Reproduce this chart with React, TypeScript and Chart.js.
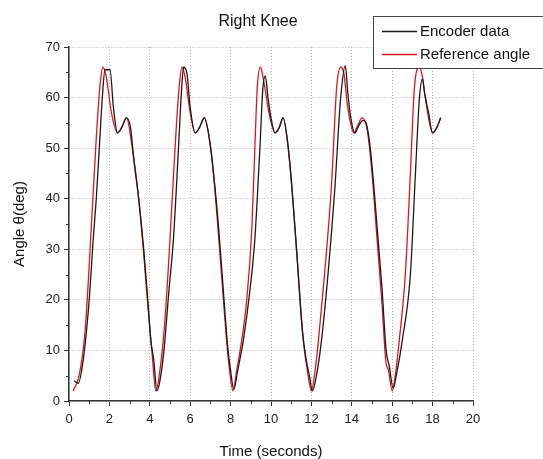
import React, { useEffect, useRef } from "react";
import { Chart, registerables } from "chart.js";

Chart.register(...registerables);

const chartTitle = "Right Knee";
const xAxisTitle = "Time (seconds)";
const yAxisTitle = "Angle \u03B8(deg)";

const encoderLabel = "Encoder data";
const referenceLabel = "Reference angle";

const encoderTime = [
  0.25, 0.45, 0.7, 1.0, 1.2, 1.35, 1.5, 1.65, 1.78, 2.03, 2.2, 2.4, 2.6, 2.85, 3.05, 3.2, 3.45, 3.7, 3.9, 4.05,
  4.2, 4.35, 4.5, 4.7, 4.95, 5.17, 5.42, 5.58, 5.67, 5.83, 6.0, 6.25, 6.45, 6.7, 6.9, 7.1, 7.35, 7.6, 7.85, 8.0,
  8.16, 8.35, 8.63, 8.96, 9.2, 9.45, 9.6, 9.72, 9.85, 10.0, 10.2, 10.4, 10.6, 10.8, 11.0, 11.3, 11.55, 11.75, 11.9,
  12.05, 12.25, 12.5, 12.82, 13.16, 13.45, 13.68, 13.8, 13.95, 14.15, 14.35, 14.55, 14.7, 14.9, 15.1, 15.3, 15.5,
  15.7, 15.85, 16.05, 16.2, 16.5, 16.9, 17.15, 17.35, 17.5, 17.6, 17.8, 18.0, 18.2, 18.4,
];
const encoderAngle = [
  4, 3.5, 8, 20, 32, 40, 50, 60, 65.5, 65.5, 58, 53, 54, 56, 54, 48, 40, 30, 20, 12,
  8, 2, 4, 10, 22, 32, 50, 62, 66, 65, 58, 53, 54, 56, 53, 47, 37, 24, 11, 6,
  2.3, 6, 12, 22, 32, 50, 62, 64.3, 60, 56, 53, 54, 56, 52, 44, 28, 14, 8, 5,
  2, 5, 12, 25, 42, 60, 66.3, 61, 56, 53, 54.5, 55.5, 55, 50.5, 42, 32, 22,
  10, 7, 2.5, 5, 12, 25, 45, 60, 63.7, 61, 57, 53, 54, 56,
];

const referenceTime = [
  0.2, 0.5, 0.8, 1.1, 1.35, 1.55, 1.68, 1.85, 2.1, 2.4, 2.6, 2.85, 3.1, 3.45, 3.7, 3.9, 4.1, 4.3, 4.5, 4.75,
  5.0, 5.25, 5.45, 5.6, 5.75, 6.0, 6.25, 6.45, 6.7, 7.05, 7.3, 7.55, 7.8, 7.95, 8.12, 8.3, 8.55, 8.8, 9.05, 9.2,
  9.32, 9.48, 9.65, 9.9, 10.2, 10.4, 10.6, 10.85, 11.1, 11.35, 11.6, 11.8, 12.0, 12.15, 12.35, 12.65, 13.0, 13.25,
  13.45, 13.6, 13.8, 14.1, 14.3, 14.5, 14.75, 15.0, 15.25, 15.5, 15.68, 15.82, 16.0, 16.15, 16.35, 16.65, 16.9,
  17.1, 17.35, 17.5, 17.6, 17.8, 18.0, 18.2, 18.4,
];
const referenceAngle = [
  2, 5, 14, 34, 52, 63, 66, 64, 57, 53, 54, 56, 51, 40, 29, 19, 10, 2, 6, 16,
  32, 50, 62, 66, 64, 57, 53, 54, 56, 49, 38, 25, 12, 6, 2, 6, 12, 20, 34, 50,
  62, 66, 63, 57, 53, 54, 56, 50, 39, 25, 12, 6, 2, 5, 12, 25, 43, 62,
  66, 65, 58, 53, 54.5, 56, 54, 45, 32, 19, 8, 6, 2, 5, 12, 25, 45,
  62, 66, 64, 61, 56, 53, 54, 56,
];

const xMin = 0;
const xMax = 20;
const xStep = 2;
const yMin = 0;
const yMax = 70;
const yStep = 10;

const FONT = "'Liberation Sans', Arial, Helvetica, sans-serif";

const decorPlugin = {
  id: "decor",
  afterDraw(chart: any) {
    const ctx = chart.ctx;
    const xs = chart.scales.x;
    const ys = chart.scales.y;
    const area = chart.chartArea;
    ctx.save();
    // minor ticks
    ctx.strokeStyle = "#333";
    ctx.lineWidth = 1;
    ctx.beginPath();
    for (let v = xMin + xStep / 2; v < xMax; v += xStep) {
      const px = Math.round(xs.getPixelForValue(v)) + 0.5;
      ctx.moveTo(px, area.bottom);
      ctx.lineTo(px, area.bottom + 3);
    }
    for (let v = yMin + yStep / 2; v < yMax; v += yStep) {
      const py = Math.round(ys.getPixelForValue(v)) + 0.5;
      ctx.moveTo(area.left, py);
      ctx.lineTo(area.left - 3, py);
    }
    ctx.stroke();

    // chart title
    ctx.fillStyle = "#111";
    ctx.font = `16px ${FONT}`;
    ctx.textAlign = "center";
    ctx.textBaseline = "middle";
    ctx.fillText(chartTitle, 258, 22);

    // legend box
    const bx = 373.5;
    const by = 16.5;
    const bw = 200;
    const bh = 52;
    ctx.fillStyle = "#fff";
    ctx.fillRect(bx, by, bw, bh);
    ctx.strokeStyle = "#444";
    ctx.lineWidth = 1;
    ctx.strokeRect(bx, by, bw, bh);
    const rows = chart.data.datasets;
    const rowY = [31.5, 54.5];
    rows.forEach((ds: any, i: number) => {
      ctx.strokeStyle = ds.borderColor;
      ctx.lineWidth = 1.3;
      ctx.beginPath();
      ctx.moveTo(382, rowY[i]);
      ctx.lineTo(417, rowY[i]);
      ctx.stroke();
      ctx.fillStyle = "#111";
      ctx.font = `15px ${FONT}`;
      ctx.textBaseline = "middle";
      ctx.textAlign = "left";
      ctx.fillText(ds.label, 420, rowY[i] + 0.5);
    });
    ctx.restore();
  },
};

export default function App() {
  const canvasRef = useRef<HTMLCanvasElement | null>(null);

  useEffect(() => {
    if (!canvasRef.current) return;
    const encoderPoints = encoderTime.map((t, i) => ({ x: t, y: encoderAngle[i] }));
    const referencePoints = referenceTime.map((t, i) => ({ x: t, y: referenceAngle[i] }));

    const chart = new Chart(canvasRef.current, {
      type: "scatter",
      data: {
        datasets: [
          {
            label: encoderLabel,
            data: encoderPoints,
            showLine: true,
            borderColor: "#1a1a1a",
            backgroundColor: "#1a1a1a",
            borderWidth: 1.3,
            pointRadius: 0,
            cubicInterpolationMode: "monotone",
          },
          {
            label: referenceLabel,
            data: referencePoints,
            showLine: true,
            borderColor: "#e0161c",
            backgroundColor: "#e0161c",
            borderWidth: 1.3,
            pointRadius: 0,
            cubicInterpolationMode: "monotone",
          },
        ],
      },
      options: {
        responsive: false,
        animation: false,
        maintainAspectRatio: false,
        layout: { padding: { left: 0, right: 70, top: 47, bottom: 0 } },
        plugins: {
          legend: { display: false },
          tooltip: { enabled: false },
          title: { display: false },
        },
        scales: {
          x: {
            type: "linear",
            min: xMin,
            max: xMax,
            afterFit: (scale: any) => {
              scale.height = 58;
            },
            ticks: {
              stepSize: xStep,
              color: "#222",
              font: { family: FONT, size: 13 },
              padding: 6,
              maxRotation: 0,
            },
            grid: {
              color: "#b5b5b5",
              lineWidth: 1,
              tickColor: "#333",
              tickLength: 5,
              tickBorderDash: [],
              tickWidth: 1,
            },
            border: { display: true, color: "#333", width: 1.5, dash: [1, 2] },
            title: {
              display: true,
              text: xAxisTitle,
              color: "#111",
              font: { family: FONT, size: 15, lineHeight: 1 },
              padding: { top: 0, bottom: 0 },
            },
          },
          y: {
            type: "linear",
            min: yMin,
            max: yMax,
            afterFit: (scale: any) => {
              scale.width = 69;
            },
            ticks: {
              stepSize: yStep,
              color: "#222",
              font: { family: FONT, size: 13 },
              padding: 4,
            },
            grid: {
              color: "#b5b5b5",
              lineWidth: 1,
              tickColor: "#333",
              tickLength: 5,
              tickBorderDash: [],
              tickWidth: 1,
            },
            border: { display: true, color: "#333", width: 1.5, dash: [1, 2] },
            title: {
              display: true,
              text: yAxisTitle,
              color: "#111",
              font: { family: FONT, size: 15 },
              padding: { top: 11, bottom: 0 },
            },
          },
        },
      },
      plugins: [decorPlugin],
    } as any);

    return () => chart.destroy();
  }, []);

  return (
    <div style={{ position: "fixed", left: 0, top: 0, width: 543, height: 459, background: "#fff" }}>
      <canvas ref={canvasRef} width={543} height={459} style={{ width: 543, height: 459 }} />
    </div>
  );
}
